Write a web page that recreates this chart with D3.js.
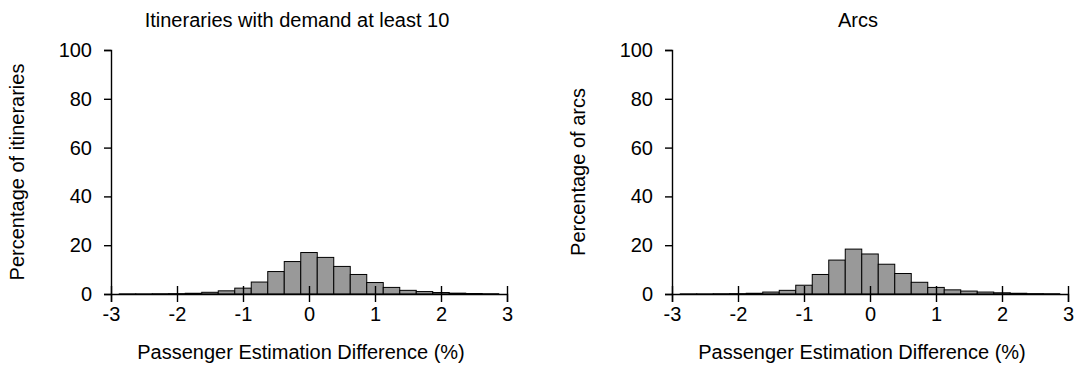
<!DOCTYPE html>
<html>
<head>
<meta charset="utf-8">
<script src="https://cdn.jsdelivr.net/npm/d3@7"></script>
<style>
  body { margin: 0; background: #fff; }
  svg text { font-family: "Liberation Sans", Arial, sans-serif; fill: #000; }
</style>
</head>
<body>
<svg id="chart" width="1075" height="373"></svg>
<script>
// bin centres (bin width 0.25)
const binCenters = [-2.75, -2.5, -2.25, -2.0, -1.75, -1.5, -1.25, -1.0, -0.75, -0.5, -0.25,
    0, 0.25, 0.5, 0.75, 1.0, 1.25, 1.5, 1.75, 2.0, 2.25, 2.5, 2.75];
const binWidth = 0.25;

// percentage of itineraries per bin
const itineraryPct = [0.05, 0.05, 0.1, 0.15, 0.3, 0.7, 1.3, 2.4, 4.9, 9.2, 13.3,
    17.0, 15.0, 11.3, 8.0, 4.7, 2.7, 1.5, 1.0, 0.6, 0.35, 0.2, 0.1];

// percentage of arcs per bin
const arcPct = [0.05, 0.05, 0.1, 0.15, 0.3, 0.8, 1.5, 3.6, 8.0, 13.9, 18.4,
    16.4, 12.2, 8.4, 4.8, 2.7, 1.7, 1.2, 0.8, 0.5, 0.3, 0.15, 0.1];

const xTicks = [-3, -2, -1, 0, 1, 2, 3];
const yTicks = [0, 20, 40, 60, 80, 100];

const svg = d3.select("#chart");
const fontSize = 20;

function drawPanel(opts) {
    const { left, right, title, yLabel, values } = opts;
    const top = 50, bottom = 294;

    const x = d3.scaleLinear().domain([-3, 3]).range([left, right]);
    const y = d3.scaleLinear().domain([0, 100]).range([bottom, top]);

    const g = svg.append("g");

    const data = binCenters.map((c, i) => ({ c: c, v: values[i] }));

    // bars
    g.append("g")
        .selectAll("rect")
        .data(data)
        .join("rect")
        .attr("x", d => x(d.c - binWidth / 2))
        .attr("y", d => y(d.v))
        .attr("width", d => x(d.c + binWidth / 2) - x(d.c - binWidth / 2))
        .attr("height", d => y(0) - y(d.v))
        .attr("fill", "#999999")
        .attr("stroke", "#000")
        .attr("stroke-width", 1);

    // x axis, ticks crossing the line
    const xAxis = g.append("g")
        .attr("transform", "translate(0," + y(0) + ")")
        .call(d3.axisBottom(x).tickValues(xTicks).tickSizeOuter(0).tickSize(8)
            .tickFormat(d3.format("d")));
    xAxis.attr("font-family", null).attr("font-size", null);
    xAxis.select(".domain").attr("stroke-width", 1.4);
    xAxis.selectAll(".tick line").attr("y1", -8).attr("y2", 8).attr("stroke-width", 1.4);
    xAxis.selectAll(".tick text")
        .attr("y", 13)
        .style("font-size", fontSize + "px")
        .text(d => (d < 0 ? "-" + Math.abs(d) : d));

    // y axis
    const yAxis = g.append("g")
        .attr("transform", "translate(" + x(-3) + ",0)")
        .call(d3.axisLeft(y).tickValues(yTicks).tickSizeOuter(0).tickSize(7).tickPadding(12));
    yAxis.attr("font-family", null).attr("font-size", null);
    yAxis.select(".domain").attr("stroke-width", 1.4);
    yAxis.selectAll(".tick line").attr("stroke-width", 1.4);
    yAxis.selectAll(".tick text").style("font-size", fontSize + "px");

    // titles
    const cx = (left + right) / 2;
    g.append("text")
        .attr("x", cx - 12)
        .attr("y", 27)
        .attr("text-anchor", "middle")
        .style("font-size", fontSize + "px")
        .text(title);

    g.append("text")
        .attr("x", cx - 8)
        .attr("y", 359)
        .attr("text-anchor", "middle")
        .style("font-size", fontSize + "px")
        .text("Passenger Estimation Difference (%)");

    g.append("text")
        .attr("transform", "translate(" + (left - 87) + "," + ((top + bottom) / 2) + ") rotate(-90)")
        .attr("text-anchor", "middle")
        .style("font-size", fontSize + "px")
        .text(yLabel);
}

drawPanel({
    left: 111, right: 507,
    title: "Itineraries with demand at least 10",
    yLabel: "Percentage of itineraries",
    values: itineraryPct
});

drawPanel({
    left: 672, right: 1068,
    title: "Arcs",
    yLabel: "Percentage of arcs",
    values: arcPct
});
</script>
</body>
</html>
